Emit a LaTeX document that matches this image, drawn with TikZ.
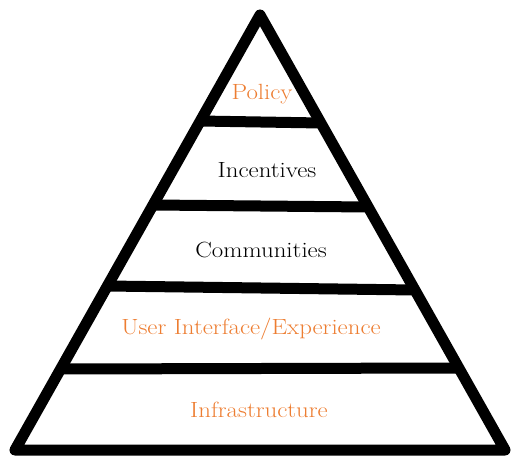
\documentclass[tikz,border=0pt]{standalone}
\usepackage{graphicx}
\newcommand{\widetxt}[1]{\scalebox{1.13}[1]{#1}}
\begin{document}
\begin{tikzpicture}[x=1pt,y=-1pt,
  edge/.style={line width=11pt,line join=round,line cap=round},
  band/.style={line width=11pt},
  lbl/.style={font=\fontsize{22}{26}\selectfont,inner sep=0pt},
  org/.style={lbl,text=orangeC},
  blk/.style={lbl,text=black}]
\definecolor{orangeC}{RGB}{237,125,49}
\useasboundingbox (0,0) rectangle (513,457);
\coordinate (top) at (260,15);
\coordinate (bl) at (15,450);
\coordinate (br) at (505,450);
\draw[edge] (top) -- (bl) -- (br) -- cycle;
\draw[band] (199.9,121) -- (321.3,123);
\draw[band] (152.7,205) -- (368.5,207);
\draw[band] (107.2,286) -- (415.1,290);
\draw[band] (60.5,369) -- (458.9,368);
\node[org] (policy) at (262,94) {\widetxt{Policy}};
\node[blk] (incent) at (267,170) {\widetxt{Incentives}};
\node[blk] (comm) at (261,250) {\widetxt{Communities}};
\node[org] (ui) at (251,329) {\widetxt{User Interface/Experience}};
\node[org] (infra) at (259,410) {\widetxt{Infrastructure}};
\end{tikzpicture}
\end{document}
